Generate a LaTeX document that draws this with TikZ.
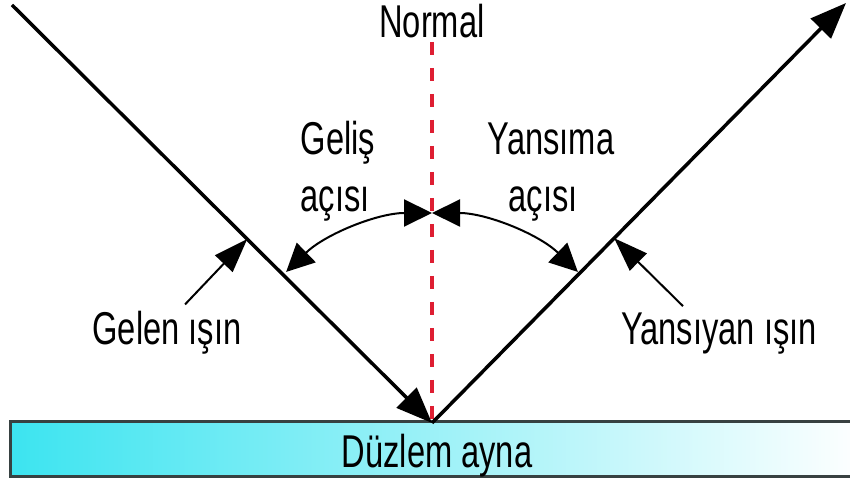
\documentclass[tikz,border=0pt]{standalone}
\usepackage{fontspec}
\setmainfont[FakeStretch=0.71]{Liberation Sans}
\usepackage{tikz}
\usetikzlibrary{arrows.meta,calc}
\definecolor{mirrorcyan}{RGB}{60,228,240}
\definecolor{normalred}{RGB}{222,30,50}
\definecolor{mirrorframe}{RGB}{55,65,65}

\begin{document}
\begin{tikzpicture}[
    x=1pt, y=1pt,
    lbl/.style={font=\fontsize{46}{50}\selectfont, inner sep=0pt, anchor=base},
    ray/.style={line width=3.5pt, -{Triangle[length=36pt,width=28pt]}},
    pointer/.style={line width=2pt, -{Triangle[length=34pt,width=24pt]}},
    anglearc/.style={line width=2pt, {Triangle[length=28pt,width=27pt]}-{Triangle[length=28pt,width=27pt]}},
    normalline/.style={normalred, line width=4pt, dash pattern=on 13pt off 13pt},
    mirror/.style={rectangle, draw=mirrorframe, line width=2.5pt, left color=mirrorcyan, right color=white, minimum width=856pt, minimum height=55pt}
]
    \useasboundingbox (0,0) rectangle (850,481);
    \clip (0,0) rectangle (850,481);

    % mirror
    \node[mirror, anchor=south west] (mirror) at (9,3) {};
    \node[lbl] (mirrortext) at (437,13) {Düzlem ayna};

    % rays
    \coordinate (O) at (432,58);
    \coordinate (A) at (12,476);
    \coordinate (B) at (846,478);
    \coordinate (normaltop) at (432,439);

    \draw[normalline] (normaltop) -- (O);
    \draw[ray] (A) -- (O);
    \draw[ray] (O) -- (B);

    \node[lbl] (normal) at (432,443) {Normal};

    % angles
    \coordinate (arctop) at ($(O)+(90:210)$);
    \draw[anglearc] (arctop) arc[start angle=90, end angle=134, radius=210];
    \draw[anglearc] (arctop) arc[start angle=90, end angle=46, radius=210];

    \node[lbl] (gelis) at (338,326) {Geliş};
    \node[lbl] (gelisaci) at (335,269) {açısı};
    \node[lbl] (yansima) at (551,326) {Yansıma};
    \node[lbl] (yansimaaci) at (543,269) {açısı};

    % ray labels
    \node[lbl] (gelen) at (167,136) {Gelen ışın};
    \node[lbl] (yansiyan) at (719,136) {Yansıyan ışın};

    \coordinate (gelentail) at ([shift={(18,7)}]gelen.north);
    \coordinate (gelenhit) at ($(A)!0.56!(O)$);
    \coordinate (yansiyantail) at ([shift={(-36,7)}]yansiyan.north);
    \coordinate (yansiyanhit) at ($(O)!0.44!(B)$);

    \draw[pointer] (gelentail) -- (gelenhit);
    \draw[pointer] (yansiyantail) -- (yansiyanhit);
\end{tikzpicture}
\end{document}
